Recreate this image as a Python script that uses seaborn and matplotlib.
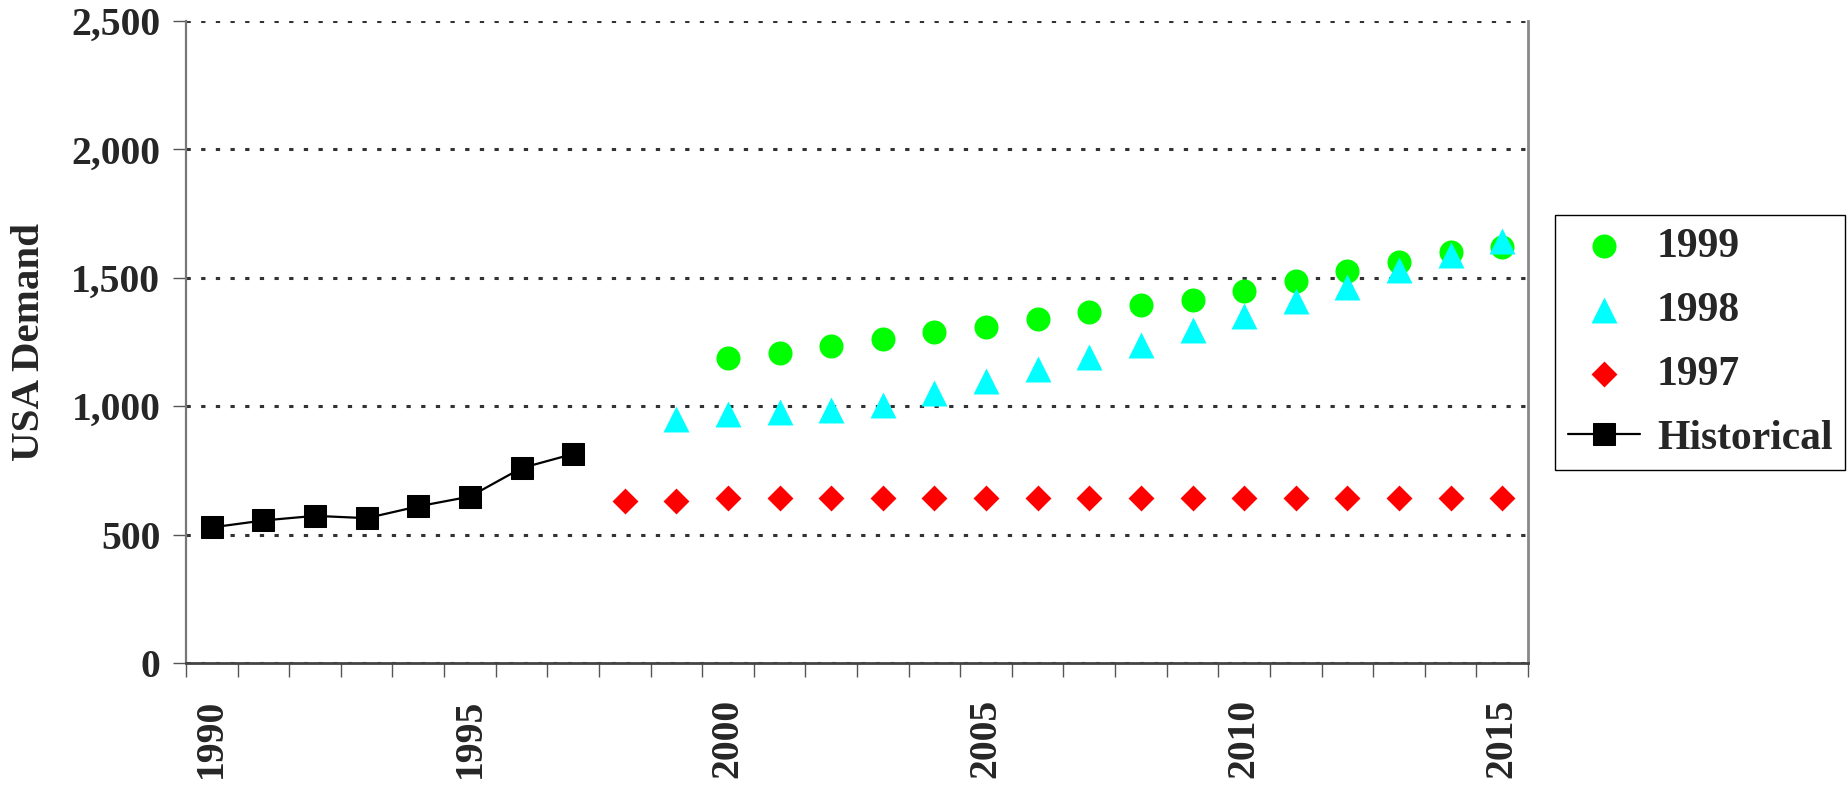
import matplotlib
matplotlib.use("Agg")
import matplotlib.pyplot as plt
import seaborn as sns
import pandas as pd
import numpy as np

years = list(range(1990, 2016))

hist_years = list(range(1990, 1998))
hist_vals = [528, 555, 573, 564, 610, 648, 759, 814]

f1997_years = list(range(1998, 2016))
f1997_vals = [632, 632] + [641] * 16

f1998_years = list(range(1999, 2016))
f1998_vals = [949, 968, 977, 987, 1006, 1053, 1100, 1146, 1193, 1240,
              1295, 1351, 1408, 1465, 1530, 1587, 1642]

f1999_years = list(range(2000, 2016))
f1999_vals = [1189, 1207, 1236, 1263, 1290, 1309, 1338, 1365, 1394, 1412,
              1450, 1489, 1525, 1563, 1599, 1618]

xtick_labels = ["1990", "1995", "2000", "2005", "2010", "2015"]

sns.set_theme(style="white")
plt.rcParams["font.family"] = ["Liberation Serif", "DejaVu Serif"]
plt.rcParams["font.weight"] = "bold"

fig = plt.figure(figsize=(18.47, 7.86), dpi=100)
ax = fig.add_axes([186 / 1847, 1 - 663 / 786, (1528 - 186) / 1847, (663 - 21) / 786])


def idx(ys):
    return [y - years[0] for y in ys]


df_hist = pd.DataFrame({"x": idx(hist_years), "v": hist_vals})
df_99 = pd.DataFrame({"x": idx(f1999_years), "v": f1999_vals})
df_98 = pd.DataFrame({"x": idx(f1998_years), "v": f1998_vals})
df_97 = pd.DataFrame({"x": idx(f1997_years), "v": f1997_vals})

sns.scatterplot(data=df_99, x="x", y="v", marker="o", color="#00FF00", s=17.3 ** 2,
                linewidth=0, label="1999", ax=ax, zorder=4)
sns.scatterplot(data=df_98, x="x", y="v", marker="^", color="#00FFFF", s=18.7 ** 2,
                linewidth=0, label="1998", ax=ax, zorder=5)
sns.scatterplot(data=df_97, x="x", y="v", marker="D", color="#FF0000", s=13.2 ** 2,
                linewidth=0, label="1997", ax=ax, zorder=4)
sns.lineplot(data=df_hist, x="x", y="v", marker="s", color="black", markersize=16.5,
             linewidth=1.6, label="Historical", ax=ax, zorder=4,
             markeredgecolor="black")

ax.set_xlim(-0.5, len(years) - 0.5)
ax.set_ylim(0, 2500)

# y axis
ax.set_yticks([0, 500, 1000, 1500, 2000, 2500])
ax.set_yticklabels(["0", "500", "1,000", "1,500", "2,000", "2,500"])
ax.tick_params(axis="y", which="major", left=True, length=9.5, width=1.0,
               color="#555555", pad=9, labelsize=28.5)
for lab in ax.get_yticklabels():
    lab.set_fontweight("bold")
ax.yaxis.grid(True, color="#333333", linestyle=(0, (1.4, 3.4)), linewidth=2.2)
ax.xaxis.grid(False)
ax.set_axisbelow(True)

# x axis: ticks at category boundaries, labels at centres
ax.set_xticks(np.arange(-0.5, len(years), 1.0))
ax.set_xticklabels([])
ax.tick_params(axis="x", which="major", bottom=True, length=10, width=1.0,
               color="#555555")
label_pos = [years.index(int(t)) for t in xtick_labels]
ax.set_xticks(label_pos, minor=True)
ax.set_xticklabels(xtick_labels, minor=True, rotation=90, fontsize=28.5,
                   fontweight="bold", va="top", ha="center")
ax.tick_params(axis="x", which="minor", bottom=True, length=0, pad=26)

ax.set_xlabel("")
ax.set_ylabel("USA Demand", fontsize=29.5, fontweight="bold")
ax.yaxis.set_label_coords(-0.103, 0.5)

ax.spines["top"].set_visible(False)
ax.spines["left"].set_color("#777777")
ax.spines["left"].set_linewidth(1.6)
ax.spines["right"].set_visible(True)
ax.spines["right"].set_color("#888888")
ax.spines["right"].set_linewidth(2.0)
ax.spines["bottom"].set_visible(True)
ax.spines["bottom"].set_color("#444444")
ax.spines["bottom"].set_linewidth(2.0)

handles, labels = ax.get_legend_handles_labels()
order = ["1999", "1998", "1997", "Historical"]
hmap = dict(zip(labels, handles))
leg = ax.legend([hmap[k] for k in order], order, loc="upper left",
                bbox_to_anchor=(1555 / 1847, 1 - 215 / 786),
                bbox_transform=fig.transFigure, borderaxespad=0,
                frameon=True, fancybox=False, shadow=False,
                prop={"family": "Liberation Serif", "weight": "bold", "size": 30},
                handlelength=1.75, handletextpad=0.4, borderpad=0.3,
                labelspacing=0.62, markerscale=1.0)
leg.get_frame().set_edgecolor("black")
leg.get_frame().set_linewidth(1.0)
leg.get_frame().set_facecolor("white")
leg.get_frame().set_alpha(1)

fig.savefig("out.png", dpi=100)
